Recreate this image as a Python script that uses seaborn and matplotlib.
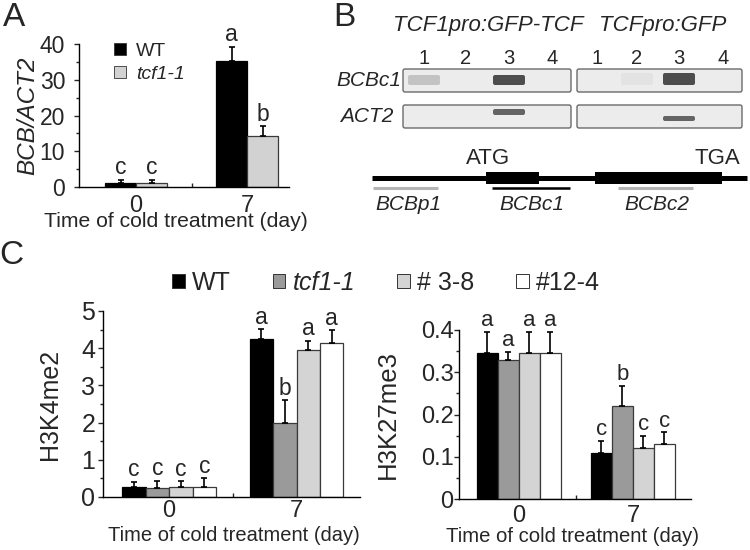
import numpy as np
import pandas as pd
import matplotlib
matplotlib.use("Agg")
import matplotlib.pyplot as plt
from matplotlib.patches import Patch, Rectangle, FancyBboxPatch
from matplotlib.ticker import MultipleLocator, FixedLocator
import seaborn as sns

# ---------------- data ----------------
times = ["0", "7"]

# Panel A
a_genotypes = ["WT", "tcf1-1"]
a_values = {"WT": [1.0, 35.2], "tcf1-1": [1.0, 14.2]}
a_errors = {"WT": [1.0, 4.0], "tcf1-1": [1.0, 2.8]}
a_letters = {"WT": ["c", "a"], "tcf1-1": ["c", "b"]}

# Panel C
c_genotypes = ["WT", "tcf1-1", "# 3-8", "#12-4"]
k4_values = {"WT": [0.27, 4.26], "tcf1-1": [0.25, 2.0], "# 3-8": [0.28, 3.95], "#12-4": [0.28, 4.14]}
k4_errors = {"WT": [0.14, 0.25], "tcf1-1": [0.18, 0.6], "# 3-8": [0.14, 0.25], "#12-4": [0.22, 0.34]}
k4_letters = {"WT": ["c", "a"], "tcf1-1": ["c", "b"], "# 3-8": ["c", "a"], "#12-4": ["c", "a"]}

k27_values = {"WT": [0.346, 0.110], "tcf1-1": [0.329, 0.219], "# 3-8": [0.346, 0.120], "#12-4": [0.346, 0.129]}
k27_errors = {"WT": [0.050, 0.028], "tcf1-1": [0.019, 0.049], "# 3-8": [0.050, 0.029], "#12-4": [0.050, 0.029]}
k27_letters = {"WT": ["a", "c"], "tcf1-1": ["a", "b"], "# 3-8": ["a", "c"], "#12-4": ["a", "c"]}

# Panel B gel band intensities (lanes 1-4)
gel_titles = ["TCF1pro:GFP-TCF", "TCFpro:GFP"]
gel_lanes = ["1", "2", "3", "4"]
gel_rows = ["BCBc1", "ACT2"]
bcbc1_bands = [[0.25, 0.0, 1.0, 0.0], [0.0, 0.05, 1.0, 0.0]]
act2_bands = [[0.0, 0.0, 0.85, 0.0], [0.0, 0.0, 0.85, 0.0]]

# ---------------- style ----------------
sns.set_style("white")
plt.rcParams["font.family"] = ["Liberation Sans", "DejaVu Sans"]
plt.rcParams["axes.linewidth"] = 1.0
plt.rcParams["xtick.direction"] = "out"
plt.rcParams["ytick.direction"] = "out"

a_palette = {"WT": "#000000", "tcf1-1": "#d2d2d2"}
c_palette = {"WT": "#000000", "tcf1-1": "#9a9a9a", "# 3-8": "#d4d4d4", "#12-4": "#ffffff"}

W, H = 750, 550
fig = plt.figure(figsize=(7.5, 5.5), dpi=100)


def px_axes(l, t, r, b):
    return fig.add_axes([l / W, 1 - b / H, (r - l) / W, (b - t) / H])


def make_df(genos, vals):
    rows = []
    for g in genos:
        for t, v in zip(times, vals[g]):
            rows.append({"time": t, "genotype": g, "value": v})
    return pd.DataFrame(rows)


def draw_bars(ax, genos, vals, errs, letters, palette, width, ylim, xlim,
              major, minor, ytick_fs, ypad, xtick_fs, xpad, letter_fs, cap, fmt0=None):
    df = make_df(genos, vals)
    sns.barplot(data=df, x="time", y="value", hue="genotype", order=times,
                hue_order=genos, palette=palette, width=width, errorbar=None,
                linewidth=0.9, edgecolor="#333333", legend=False, ax=ax,
                saturation=1)
    conts = list(ax.containers)[:len(genos)]
    for gi, cont in enumerate(conts):
        g = genos[gi]
        for ti, bar in enumerate(cont):
            bar.set_edgecolor("#000000" if g == "WT" else "#3a3a3a")
            x = bar.get_x() + bar.get_width() / 2
            h = bar.get_height()
            e = errs[g][ti]
            ax.errorbar([x], [h], yerr=[[0], [e]], fmt="none", ecolor="black",
                        elinewidth=1.2, capsize=cap, capthick=1.2, zorder=3)
            ax.annotate(letters[g][ti], (x, h + e), xytext=(0, 0.5),
                        textcoords="offset points", ha="center", va="bottom",
                        fontsize=letter_fs)
    ax.set_ylim(*ylim)
    ax.set_xlim(*xlim)
    ax.yaxis.set_major_locator(MultipleLocator(major))
    ax.yaxis.set_minor_locator(MultipleLocator(minor))
    ax.tick_params(axis="y", which="major", length=3.5, width=1, labelsize=ytick_fs, pad=ypad, left=True)
    ax.tick_params(axis="y", which="minor", length=2.5, width=1, left=True)
    ax.set_xticks([0, 1])
    ax.set_xticklabels(times)
    ax.tick_params(axis="x", which="major", length=0, labelsize=xtick_fs, pad=xpad)
    ax.xaxis.set_minor_locator(FixedLocator([0.5]))
    ax.tick_params(axis="x", which="minor", direction="in", length=3, width=1, bottom=True)
    if fmt0:
        ax.yaxis.set_major_formatter(fmt0)
    for s in ["top", "right"]:
        ax.spines[s].set_visible(False)
    for s in ["left", "bottom"]:
        ax.spines[s].set_color("black")
    ax.set_facecolor("none")


# ---------------- Panel A ----------------
axA = px_axes(79, 44, 289, 187)
draw_bars(axA, a_genotypes, a_values, a_errors, a_letters, a_palette, 0.56,
          (0, 40), (-0.514, 1.378), 10, 5, 16.5, 6.5, 17, 5.5, 16.5, 2.2)
axA.set_ylabel("BCB/ACT2", fontsize=17.5, style="italic")
axA.yaxis.set_label_coords(-0.245, 0.5)
axA.yaxis.label.set_va("center")
axA.set_xlabel("Time of cold treatment (day)", fontsize=15.2)
axA.xaxis.set_label_coords(0.462, -0.24)
axA.xaxis.label.set_va("center")
legA = axA.legend([Patch(facecolor=a_palette[g], edgecolor="#333333", linewidth=0.6) for g in a_genotypes],
                  a_genotypes, loc="upper left", bbox_to_anchor=(114 / W, 1 - 43 / H),
                  bbox_transform=fig.transFigure, frameon=False, fontsize=14,
                  handlelength=0.6, handleheight=0.55, handletextpad=0.55,
                  labelspacing=0.3, borderpad=0, borderaxespad=0)
legA.get_texts()[1].set_style("italic")

# ---------------- Panel C left ----------------
axC1 = px_axes(103, 311, 360, 497)
draw_bars(axC1, c_genotypes, k4_values, k4_errors, k4_letters, c_palette, 0.737,
          (0, 5), (-0.518, 1.498), 1, 0.5, 18, 2, 17, 2.5, 16.5, 2.2)
axC1.set_ylabel("H3K4me2", fontsize=18)
axC1.yaxis.set_label_coords(-0.206, 0.5)
axC1.yaxis.label.set_va("center")
axC1.set_xlabel("Time of cold treatment (day)", fontsize=14.5)
axC1.xaxis.set_label_coords(0.51, -0.205)
axC1.xaxis.label.set_va("center")

# ---------------- Panel C right ----------------
fmt = matplotlib.ticker.FuncFormatter(lambda v, p: "0" if abs(v) < 1e-9 else f"{v:.1f}")
axC2 = px_axes(459, 330, 691, 499)
draw_bars(axC2, c_genotypes, k27_values, k27_errors, k27_letters, c_palette, 0.737,
          (0, 0.4), (-0.526, 1.509), 0.1, 0.05, 17, 0.5, 17, 4.5, 16, 2.2, fmt)
axC2.set_ylabel("H3K27me3", fontsize=18.5)
axC2.yaxis.set_label_coords(-0.306, 0.5)
axC2.yaxis.label.set_va("center")
axC2.set_xlabel("Time of cold treatment (day)", fontsize=14.6)
axC2.xaxis.set_label_coords(0.491, -0.222)
axC2.xaxis.label.set_va("center")

# Legend C
legC = fig.legend([Patch(facecolor=c_palette[g], edgecolor="#333333", linewidth=0.7) for g in c_genotypes],
                  c_genotypes, loc="center", bbox_to_anchor=(386 / W, 1 - 283 / H),
                  bbox_transform=fig.transFigure, ncol=4, frameon=False, fontsize=18,
                  handlelength=0.5, handleheight=0.5, handletextpad=0.3,
                  columnspacing=1.67, borderpad=0, borderaxespad=0)
legC.get_texts()[1].set_style("italic")

# ---------------- Panel B (overlay in pixel coordinates) ----------------
axB = fig.add_axes([0, 0, 1, 1], zorder=-1)
axB.set_xlim(0, W)
axB.set_ylim(H, 0)
axB.axis("off")

for lab, (x, y) in zip(["A", "B", "C"], [(14, 17), (344, 17), (11, 256)]):
    axB.text(x, y, lab, fontsize=24, ha="center", va="center")

box_x = [(403, 571), (577, 742)]
row_y = [(69, 92), (105, 128)]
lane_x = [[424, 466, 509, 552], [597, 637, 679, 723]]
band_y = [[(75, 85), (73, 85)], [(109, 115), (116, 121)]]
title_x = [488, 663]
row_label_right = [401, 393]

for gi, (x0, x1) in enumerate(box_x):
    axB.text(title_x[gi], 25, gel_titles[gi], fontsize=16, style="italic", ha="center", va="center")
    for li, lab in enumerate(gel_lanes):
        axB.text(lane_x[gi][li], 58, lab, fontsize=14.5, ha="center", va="center")
    for ri, (y0, y1) in enumerate(row_y):
        axB.add_patch(FancyBboxPatch((x0, y0), x1 - x0, y1 - y0, boxstyle="round,pad=0,rounding_size=2",
                                     facecolor="#ececec", edgecolor="#6a6a6a", linewidth=1.0))
        bands = bcbc1_bands if ri == 0 else act2_bands
        by0, by1 = band_y[ri][gi]
        for li, s in enumerate(bands[gi]):
            if s <= 0:
                continue
            g = 0.92 - 0.62 * s
            axB.add_patch(FancyBboxPatch((lane_x[gi][li] - 16, by0), 32, by1 - by0,
                                         boxstyle="round,pad=0,rounding_size=2",
                                         facecolor=(g, g, g), edgecolor="none"))

for ri, lab in enumerate(gel_rows):
    axB.text(row_label_right[ri], (row_y[ri][0] + row_y[ri][1]) / 2, lab, fontsize=15, style="italic",
             ha="right", va="center")

# gene model
axB.plot([372, 747], [178, 178], color="black", lw=3.6, solid_capstyle="butt")
axB.add_patch(Rectangle((486, 172), 53, 12, facecolor="black", edgecolor="none"))
axB.add_patch(Rectangle((595, 172), 127, 12, facecolor="black", edgecolor="none"))
axB.plot([373, 438], [188, 188], color="#b4b4b4", lw=2.2, solid_capstyle="butt")
axB.plot([492, 570], [188, 188], color="black", lw=1.8, solid_capstyle="butt")
axB.plot([618, 693], [188, 188], color="#b4b4b4", lw=2.2, solid_capstyle="butt")
axB.text(488, 158, "ATG", fontsize=16, ha="center", va="center")
axB.text(717, 158, "TGA", fontsize=16, ha="center", va="center")
for x, lab in [(408, "BCBp1"), (532, "BCBc1"), (657, "BCBc2")]:
    axB.text(x, 205, lab, fontsize=15, style="italic", ha="center", va="center")

fig.savefig("out.png", dpi=100, facecolor="white")
